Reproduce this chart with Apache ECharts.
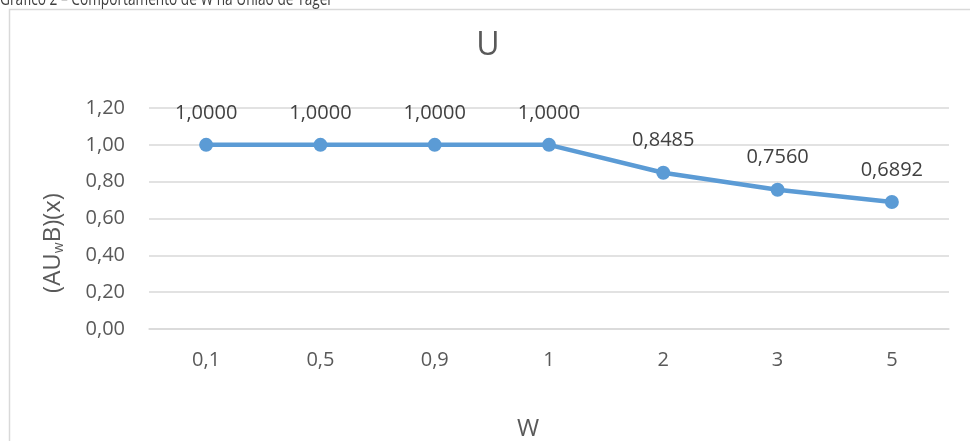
<!DOCTYPE html>
<html><head><meta charset="utf-8">
<script src="https://cdn.jsdelivr.net/npm/echarts@6/dist/echarts.min.js"></script>
<style>html,body{margin:0;padding:0;background:#fff}#c{width:970px;height:441px}</style>
</head><body><div id="c"></div>
<script>
const categories = ['0,1','0,5','0,9','1','2','3','5'];
const values = [1.0000, 1.0000, 1.0000, 1.0000, 0.8485, 0.7560, 0.6892];
const yTicks = {min: 0, max: 1.2, interval: 0.2};
const FONT = '"Open Sans", "Liberation Sans", sans-serif';
const chart = echarts.init(document.getElementById('c'));
chart.setOption({
  animation: false,
  textStyle: {fontFamily: FONT},
  graphic: [
    {type: 'rect', shape: {x: 9.5, y: 9.5, width: 980, height: 460}, style: {fill: 'none', stroke: '#d9d9d9', lineWidth: 1.5}, silent: true},
    {type: 'text', x: 0, y: 9, scaleX: 0.76, style: {text: 'Gráfico 2 – Comportamento de W na União de Yager', fontSize: 18, fontFamily: FONT, fill: '#404040', verticalAlign: 'bottom'}},
    {type: 'text', x: 488, y: 46, style: {text: 'U', fontSize: 32, fontFamily: FONT, fill: '#595959', align: 'center', verticalAlign: 'middle'}},
    {type: 'text', x: 528, y: 429, style: {text: 'W', fontSize: 24, fontFamily: FONT, fill: '#595959', align: 'center', verticalAlign: 'middle'}},
    {type: 'text', x: 53, y: 243, rotation: Math.PI / 2, style: {
      text: '{a|(AU}{s|w}{a|B)(x)}', align: 'center', verticalAlign: 'middle',
      rich: {a: {fontSize: 24, fill: '#595959', fontFamily: FONT}, s: {fontSize: 14, fill: '#595959', fontFamily: FONT, verticalAlign: 'bottom', padding: [12, 0, 0, 0]}}
    }}
  ],
  grid: {left: 149, right: 21, top: 108, bottom: 112, containLabel: false},
  xAxis: {
    type: 'category', data: categories, boundaryGap: true,
    axisLine: {lineStyle: {color: '#d9d9d9', width: 1.5}}, axisTick: {show: false},
    axisLabel: {fontSize: 20, color: '#595959', margin: 21}
  },
  yAxis: {
    type: 'value', min: yTicks.min, max: yTicks.max, interval: yTicks.interval,
    axisLine: {show: false}, axisTick: {show: false},
    splitLine: {lineStyle: {color: '#d9d9d9', width: 1.5}},
    axisLabel: {fontSize: 20, color: '#595959', margin: 24, formatter: v => v.toFixed(2).replace('.', ',')}
  },
  series: [{
    type: 'line', data: values,
    lineStyle: {color: '#5B9BD5', width: 4.5},
    itemStyle: {color: '#5B9BD5'},
    symbol: 'circle', symbolSize: 14,
    label: {show: true, position: 'top', distance: 15, fontSize: 20, color: '#404040', formatter: p => p.value.toFixed(4).replace('.', ',')}
  }]
});
</script></body></html>
